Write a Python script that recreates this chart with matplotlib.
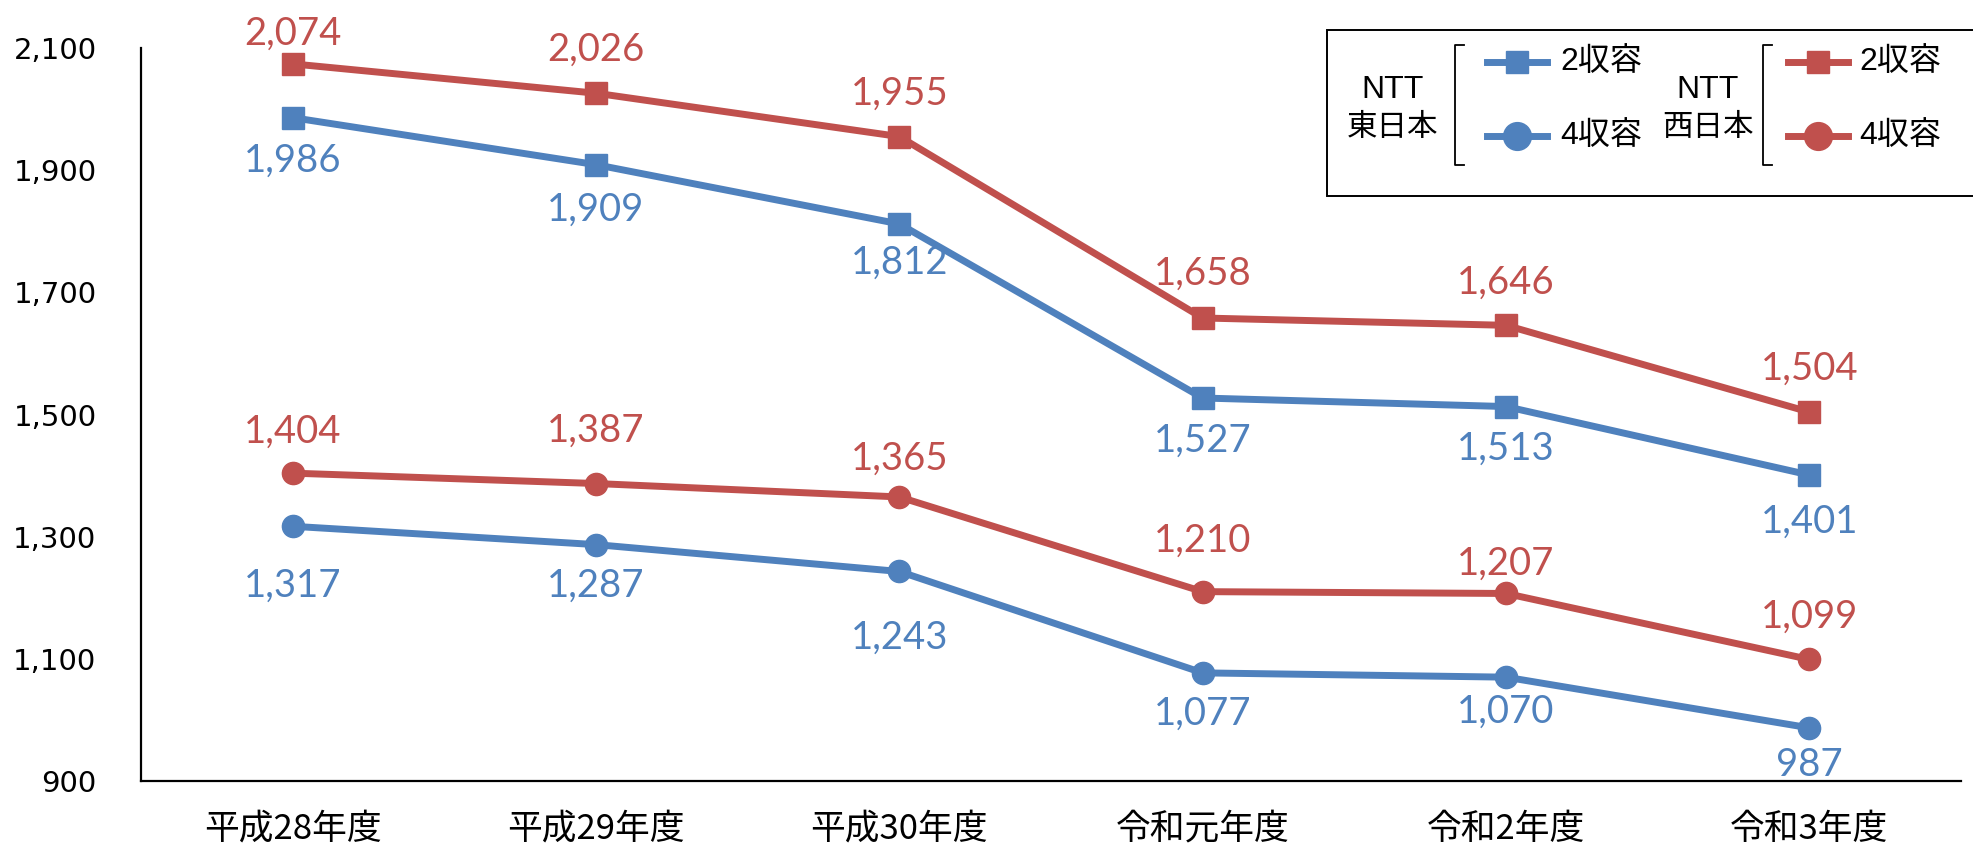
import matplotlib
matplotlib.use("Agg")
import matplotlib.pyplot as plt
from matplotlib.lines import Line2D
from matplotlib.patches import Rectangle

plt.rcParams['font.family'] = ['DejaVu Sans', 'Noto Sans CJK JP']

categories = ['平成28年度', '平成29年度', '平成30年度', '令和元年度', '令和2年度', '令和3年度']
east_2 = [1986, 1909, 1812, 1527, 1513, 1401]
east_4 = [1317, 1287, 1243, 1077, 1070, 987]
west_2 = [2074, 2026, 1955, 1658, 1646, 1504]
west_4 = [1404, 1387, 1365, 1210, 1207, 1099]
yticks = [900, 1100, 1300, 1500, 1700, 1900, 2100]

# data-label placement (points; + above, - below), as placed in the original
west_2_lab = [22, 31, 31, 32, 31, 31.5]
west_4_lab = [30, 38, 27.5, 36.5, 21.5, 31]
east_2_lab = [-31, -32.5, -28, -30.5, -30.5, -34]
east_4_lab = [-43, -29.5, -48, -29.5, -25, -27]

BLUE = '#4F81BD'
RED = '#C0504D'

W, H = 1974, 846
fig = plt.figure(figsize=(W / 100, H / 100), dpi=100)
ax = fig.add_axes([141 / W, 1 - 781 / H, 1820 / W, (781 - 48) / H])

x = list(range(len(categories)))
series = [
    (west_2, west_2_lab, RED, 's', 16.5),
    (east_2, east_2_lab, BLUE, 's', 16.5),
    (west_4, west_4_lab, RED, 'o', 16),
    (east_4, east_4_lab, BLUE, 'o', 16),
]
for vals, offs, col, mk, ms in series:
    ax.plot(x, vals, color=col, lw=5, marker=mk, markersize=ms, zorder=3)
    for xi, v, off in zip(x, vals, offs):
        ax.annotate(f'{v:,}', (xi, v), xytext=(0, off), textcoords='offset points',
                    ha='center', va='center', color=col, fontsize=27.5,
                    family=['Lato', 'DejaVu Sans'])

ax.set_xlim(-0.5, 5.5)
ax.set_ylim(900, 2100)
ax.set_yticks(yticks)
ax.set_yticklabels([f'{v:,}' for v in yticks], fontsize=21)
ax.set_xticks(x)
ax.set_xticklabels(categories, fontsize=25, family=['Noto Sans CJK JP'])
ax.tick_params(axis='y', length=0, pad=32)
ax.tick_params(axis='x', length=0, pad=22)
for s in ['top', 'right']:
    ax.spines[s].set_visible(False)
for s in ['left', 'bottom']:
    ax.spines[s].set_linewidth(1.6)
    ax.spines[s].set_color('black')


def fx(px):
    return px / W


def fy(py):
    return 1 - py / H


# Legend box
fig.patches.append(Rectangle((fx(1327), fy(196)), fx(1995) - fx(1327), fy(30) - fy(196),
                             transform=fig.transFigure, facecolor='white', edgecolor='black',
                             lw=1.4, zorder=5))

leg_font = dict(fontsize=23, family=['Liberation Sans', 'Noto Sans CJK JP'], zorder=6,
                transform=fig.transFigure)
cjk_font = dict(fontsize=22, family=['Noto Sans CJK JP'], zorder=6, transform=fig.transFigure)

for cx, bx, lx0, tx, col, name in [(1393, 1455, 1487, 1560, BLUE, '東日本'),
                                    (1708, 1763, 1788, 1859, RED, '西日本')]:
    fig.text(fx(cx), fy(90), 'NTT', ha='center', va='center', **leg_font)
    fig.text(fx(cx), fy(128), name, ha='center', va='center', **cjk_font)
    fig.lines.append(Line2D([fx(bx + 9), fx(bx), fx(bx), fx(bx + 9)],
                            [fy(45), fy(45), fy(165), fy(165)], color='black', lw=1.3,
                            transform=fig.transFigure, zorder=6))
    for yy, mk, lab, ms in [(62, 's', '2収容', 16), (136, 'o', '4収容', 20)]:
        fig.lines.append(Line2D([fx(lx0), fx(lx0 + 60)], [fy(yy), fy(yy)], color=col, lw=5,
                                transform=fig.transFigure, zorder=6))
        fig.lines.append(Line2D([fx(lx0 + 30)], [fy(yy)], color=col, marker=mk, markersize=ms,
                                lw=0, transform=fig.transFigure, zorder=7))
        fig.text(fx(tx), fy(yy), lab, ha='left', va='center', **leg_font)

fig.savefig('out.png', dpi=100)
